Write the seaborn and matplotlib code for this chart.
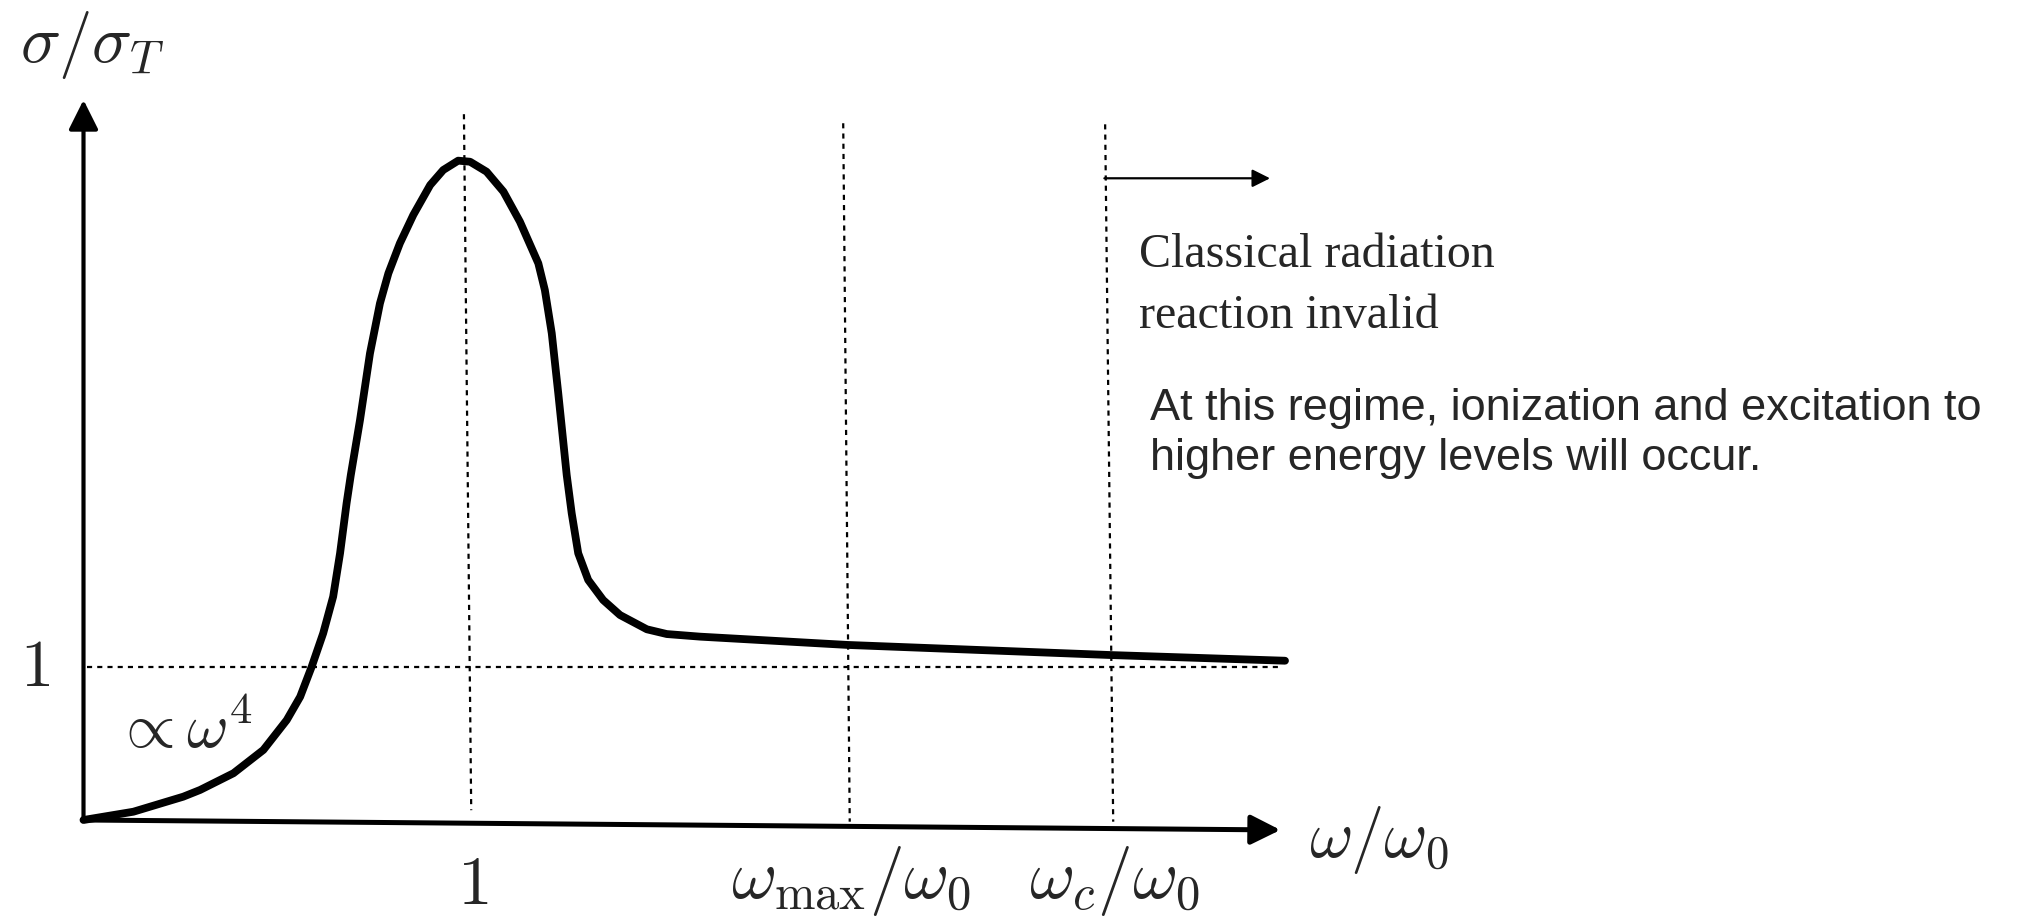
import numpy as np
import pandas as pd
import seaborn as sns
import matplotlib.pyplot as plt

# schematic cross-section curve (x = w/w0, y = sigma/sigma_T)
omega = [0.0, 0.130, 0.260, 0.304, 0.391, 0.469, 0.530, 0.565, 0.595, 0.625,
         0.651, 0.669, 0.686, 0.697, 0.721, 0.747, 0.773, 0.795, 0.825, 0.860,
         0.904, 0.938, 0.977, 1.008, 1.051, 1.095, 1.138, 1.186, 1.203, 1.221,
         1.238, 1.260, 1.273, 1.290, 1.316, 1.355, 1.399, 1.469, 1.521, 1.608,
         1.992, 2.679, 3.133]
sigma = [0.0, 0.054, 0.152, 0.196, 0.305, 0.457, 0.652, 0.804, 1.000, 1.218,
         1.457, 1.740, 2.066, 2.250, 2.609, 3.044, 3.370, 3.566, 3.762, 3.947,
         4.142, 4.240, 4.301, 4.294, 4.229, 4.099, 3.903, 3.631, 3.457, 3.175,
         2.783, 2.250, 2.001, 1.740, 1.566, 1.435, 1.337, 1.244, 1.213, 1.196,
         1.142, 1.076, 1.039]

# marker lines: x at top, x at bottom (the sketch is slightly skewed)
vline_names = [r"$1$", r"$\omega_{\max}/\omega_0$", r"$\omega_c/\omega_0$"]
vline_top_x = [0.992, 1.981, 2.664]
vline_bot_x = [1.011, 1.998, 2.685]
vline_top_y = [4.604, 4.545, 4.538]
vline_bot_y = [0.064, -0.011, -0.011]
vlabel_y = [-0.545, -0.509, -0.509]

df = pd.DataFrame({"omega": omega, "sigma": sigma})

sns.set_style("white")
plt.rcParams["mathtext.fontset"] = "cm"
plt.rcParams["font.family"] = ["DejaVu Sans"]

fig = plt.figure(figsize=(20.22, 9.17), dpi=100)
ax = fig.add_axes([0, 0, 1, 1])
ax.set_xlim(-83.5 / 383.5, (2022 - 83.5) / 383.5)
ax.set_ylim((820 - 917) / 153.3, 820 / 153.3)
ax.axis("off")

dash = (0, (2.3, 2.3))

# dotted guides
ax.plot([0.008, 3.115], [1.0, 1.0], color="black", lw=1.6, linestyle=dash)
for xt, xb, yt, yb in zip(vline_top_x, vline_bot_x, vline_top_y, vline_bot_y):
    ax.plot([xt, xb], [yt, yb], color="black", lw=1.6, linestyle=dash)

# axes arrows
ax.annotate("", xy=(0.0, 4.697), xytext=(0.0, 0.0),
            arrowprops=dict(arrowstyle="-|>,head_length=0.9,head_width=0.45",
                            lw=3, color="black", shrinkA=0, shrinkB=0,
                            mutation_scale=20))
ax.annotate("", xy=(3.121, -0.065), xytext=(0.0, 0.0),
            arrowprops=dict(arrowstyle="-|>,head_length=0.9,head_width=0.45",
                            lw=3.6, color="black", shrinkA=0, shrinkB=0,
                            mutation_scale=20))

# the curve
sns.lineplot(data=df, x="omega", y="sigma", ax=ax, color="black", lw=5.6,
             sort=False, estimator=None, solid_capstyle="round",
             solid_joinstyle="round")

# regime arrow
ax.annotate("", xy=(3.094, 4.186), xytext=(2.662, 4.186),
            arrowprops=dict(arrowstyle="-|>,head_length=0.9,head_width=0.45",
                            lw=1.6, color="black", shrinkA=0, shrinkB=0,
                            mutation_scale=12))

# labels
ax.text(-0.165, 5.055, r"$\sigma/\sigma_T$", fontsize=48, ha="left", va="center")
ax.text(-0.126, 1.0, r"$1$", fontsize=48, ha="center", va="center")
ax.text(0.080, 0.47, r"$\propto \omega^4$", fontsize=46, ha="left", va="baseline")
ax.text(3.195, -0.13, r"$\omega/\omega_0$", fontsize=48, ha="left", va="center")
for xb, name, ly in zip(vline_bot_x, vline_names, vlabel_y):
    ax.text(xb + 0.003, ly, name, fontsize=50, ha="center", va="baseline")

ax.text(2.752, 3.609, "Classical radiation", fontsize=34.6, ha="left",
        va="baseline", fontfamily="Liberation Serif")
ax.text(2.752, 3.209, "reaction invalid", fontsize=34.6, ha="left",
        va="baseline", fontfamily="Liberation Serif")
ax.text(2.781, 2.609, "At this regime, ionization and excitation to",
        fontsize=32.5, ha="left", va="baseline", fontfamily="Liberation Sans")
ax.text(2.781, 2.283, "higher energy levels will occur.",
        fontsize=32.5, ha="left", va="baseline", fontfamily="Liberation Sans")

plt.savefig("out.png", dpi=100)
